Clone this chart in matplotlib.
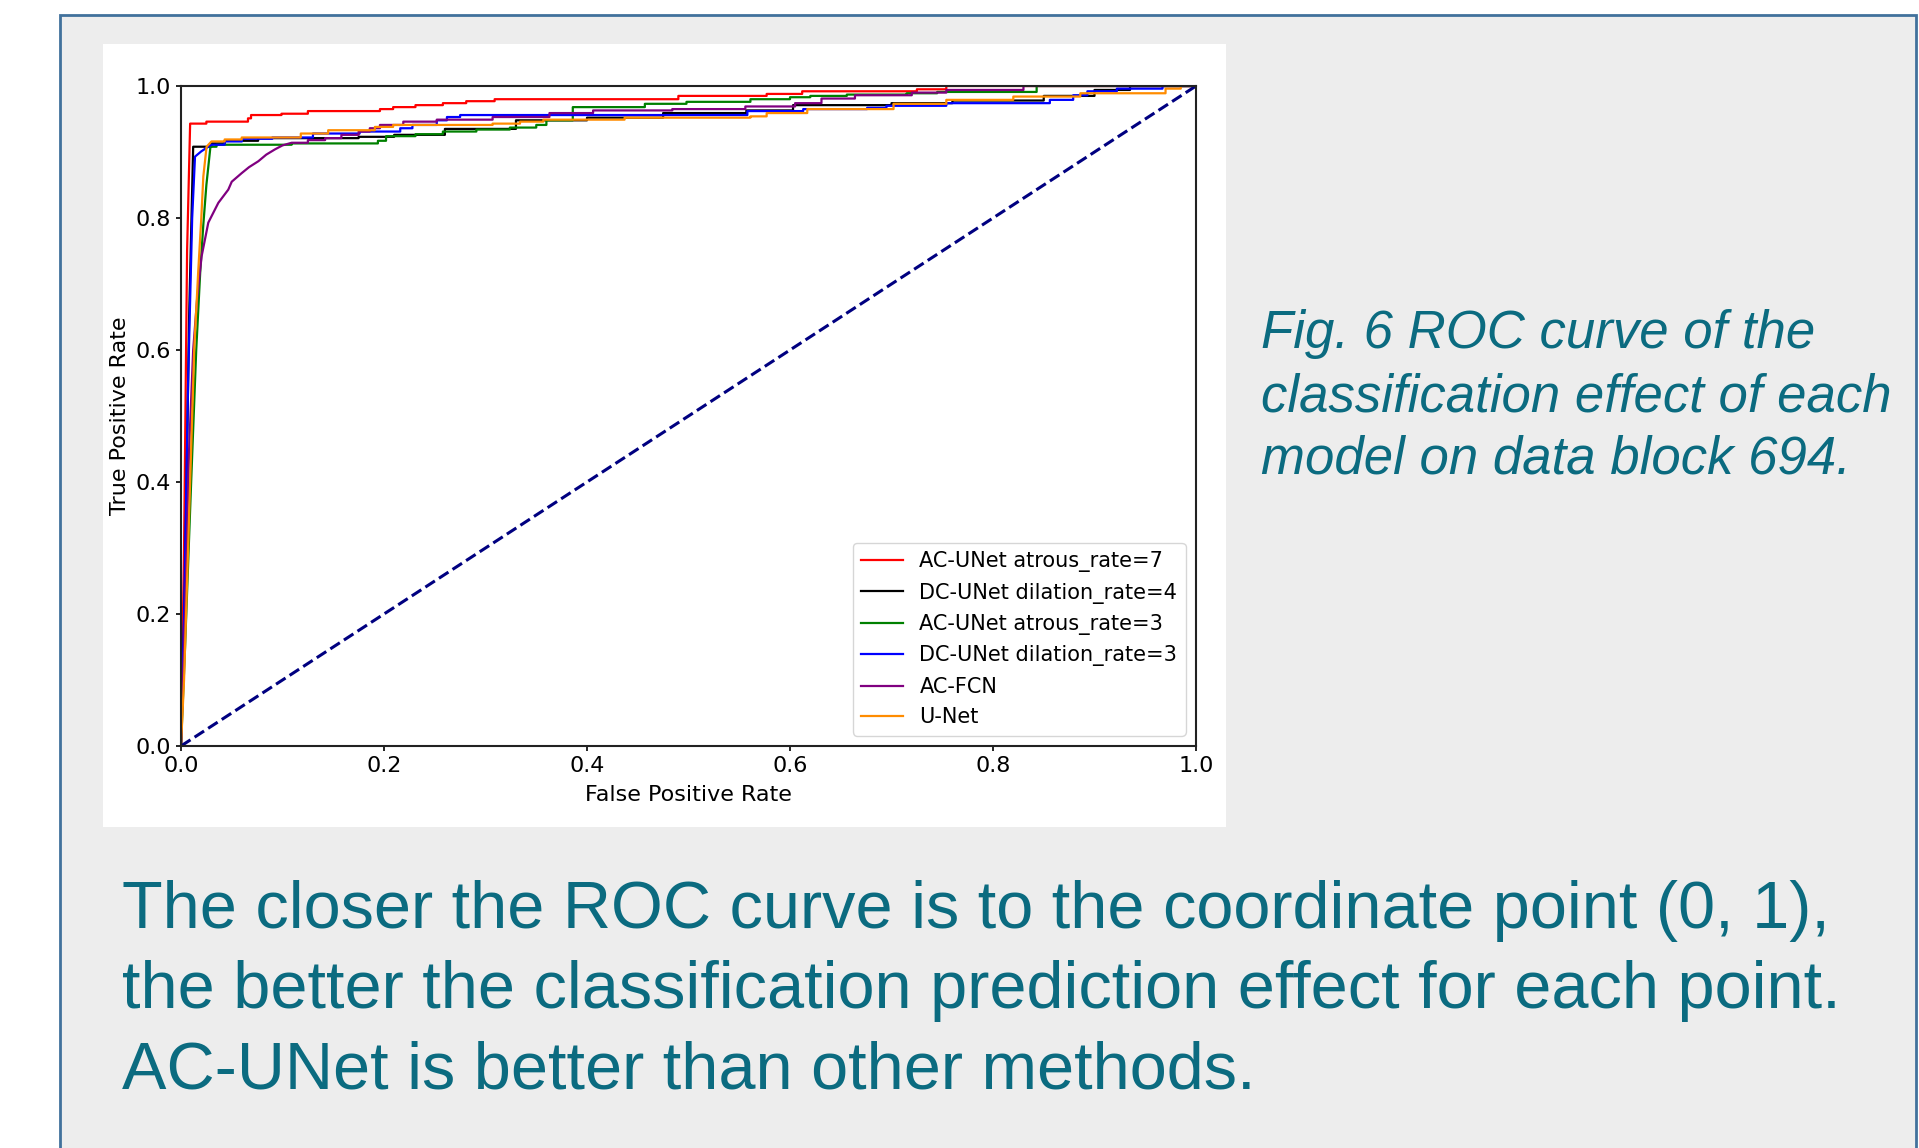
import matplotlib
matplotlib.use("Agg")
from matplotlib import pyplot as plt
from matplotlib.patches import Rectangle

# ROC points (fpr, tpr)
fpr_ac7 = [0, 0.003, 0.006, 0.009, 0.025, 0.066, 0.069, 0.099, 0.125, 0.196, 0.209, 0.231,
           0.258, 0.281, 0.309, 0.490, 0.577, 0.612, 0.725, 0.754, 1.0]
tpr_ac7 = [0, 0.30, 0.75, 0.943, 0.946, 0.951, 0.956, 0.958, 0.962, 0.965, 0.968, 0.971,
           0.974, 0.977, 0.980, 0.985, 0.988, 0.992, 0.995, 1.0, 1.0]

fpr_dc4 = [0, 0.004, 0.008, 0.012, 0.030, 0.043, 0.076, 0.175, 0.21, 0.26, 0.33, 0.40,
           0.475, 0.557, 0.603, 0.70, 0.76, 0.85, 0.90, 0.935, 1.0]
tpr_dc4 = [0, 0.25, 0.65, 0.908, 0.913, 0.917, 0.921, 0.923, 0.926, 0.935, 0.948, 0.952,
           0.959, 0.963, 0.971, 0.974, 0.978, 0.985, 0.994, 1.0, 1.0]

fpr_ac3 = [0, 0.004, 0.010, 0.015, 0.019, 0.022, 0.025, 0.029, 0.035, 0.109, 0.194, 0.202,
           0.231, 0.258, 0.291, 0.324, 0.35, 0.36, 0.386, 0.457, 0.498, 0.561, 0.60, 0.62,
           0.656, 0.715, 0.745, 0.843, 1.0]
tpr_ac3 = [0, 0.15, 0.40, 0.60, 0.72, 0.79, 0.85, 0.908, 0.911, 0.913, 0.917, 0.924,
           0.927, 0.931, 0.934, 0.937, 0.941, 0.948, 0.968, 0.973, 0.976, 0.980, 0.983, 0.985,
           0.987, 0.989, 0.991, 1.0, 1.0]

fpr_dc3 = [0, 0.003, 0.007, 0.011, 0.0138, 0.020, 0.030, 0.043, 0.06, 0.09, 0.13, 0.176,
           0.216, 0.228, 0.252, 0.262, 0.275, 0.558, 0.613, 0.676, 0.695, 0.754, 0.856,
           0.879, 0.893, 0.922, 0.967, 1.0]
tpr_dc3 = [0, 0.2, 0.55, 0.80, 0.893, 0.901, 0.911, 0.916, 0.920, 0.922, 0.928, 0.931,
           0.936, 0.941, 0.948, 0.953, 0.956, 0.962, 0.965, 0.967, 0.970, 0.974, 0.979,
           0.986, 0.992, 0.996, 1.0, 1.0]

fpr_fcn = [0, 0.004, 0.008, 0.012, 0.016, 0.0203, 0.0269, 0.0368, 0.0466, 0.050, 0.0598,
           0.067, 0.0762, 0.084, 0.0926, 0.100, 0.109, 0.125, 0.142, 0.158, 0.175, 0.186,
           0.196, 0.219, 0.252, 0.307, 0.363, 0.406, 0.484, 0.556, 0.605, 0.631, 0.664,
           0.72, 0.754, 0.83, 1.0]
tpr_fcn = [0, 0.2, 0.45, 0.60, 0.68, 0.742, 0.793, 0.823, 0.843, 0.855, 0.868,
           0.877, 0.886, 0.896, 0.904, 0.910, 0.914, 0.918, 0.921, 0.926, 0.931, 0.936,
           0.941, 0.946, 0.949, 0.953, 0.959, 0.963, 0.965, 0.969, 0.974, 0.981, 0.986,
           0.990, 0.994, 1.0, 1.0]

fpr_unet = [0, 0.003, 0.008, 0.013, 0.017, 0.020, 0.022, 0.0252, 0.030, 0.043, 0.0598,
            0.118, 0.145, 0.191, 0.209, 0.307, 0.334, 0.357, 0.437, 0.561, 0.577, 0.617,
            0.702, 0.754, 0.82, 0.886, 0.97, 0.985, 1.0]
tpr_unet = [0, 0.1, 0.35, 0.60, 0.72, 0.80, 0.863, 0.908, 0.916, 0.919, 0.922,
            0.928, 0.933, 0.938, 0.941, 0.943, 0.946, 0.949, 0.952, 0.954, 0.959, 0.965,
            0.973, 0.979, 0.984, 0.989, 0.996, 1.0, 1.0]

labels = ['AC-UNet atrous_rate=7', 'DC-UNet dilation_rate=4', 'AC-UNet atrous_rate=3',
          'DC-UNet dilation_rate=3', 'AC-FCN', 'U-Net']
colors = ['red', 'black', 'green', 'blue', 'purple', 'darkorange']
curves = [(fpr_ac7, tpr_ac7), (fpr_dc4, tpr_dc4), (fpr_ac3, tpr_ac3),
          (fpr_dc3, tpr_dc3), (fpr_fcn, tpr_fcn), (fpr_unet, tpr_unet)]
# how many leading points belong to the steep (sloped) rise of each curve
rise_pts = [4, 4, 8, 7, 17, 9]

caption = 'Fig. 6 ROC curve of the\nclassification effect of each\nmodel on data block 694.'
note = ('The closer the ROC curve is to the coordinate point (0, 1),\n'
        'the better the classification prediction effect for each point.\n'
        'AC-UNet is better than other methods.')
teal = '#0b6b80'


def roc_path(fx, ty, n_rise):
    # sloped rise first, then a staircase through the remaining points
    xs, ys = list(fx[:n_rise]), list(ty[:n_rise])
    for i in range(n_rise, len(fx)):
        xs += [fx[i], fx[i]]
        ys += [ys[-1], ty[i]]
    return xs, ys


fig = plt.figure(figsize=(19.19, 11.48), dpi=100)
fig.patch.set_facecolor('white')

# grey poster panel with blue border, and the white chart panel
fig.patches.append(Rectangle((60 / 1919, -0.05), (1916 - 60) / 1919, 1.05 - 15 / 1148,
                             transform=fig.transFigure, facecolor='#ededed',
                             edgecolor='#41719c', linewidth=2, zorder=0))
fig.patches.append(Rectangle((103 / 1919, 1 - 827 / 1148), 1123 / 1919, 783 / 1148,
                             transform=fig.transFigure, facecolor='white',
                             edgecolor='none', zorder=1))

ax = fig.add_axes([181 / 1919, 1 - 746 / 1148, 1015 / 1919, 660 / 1148])
ax.set_zorder(2)
for (fx, ty), n, lab, col in zip(curves, rise_pts, labels, colors):
    xs, ys = roc_path(fx, ty, n)
    ax.plot(xs, ys, color=col, lw=1.6, label=lab)
ax.plot([0, 1], [0, 1], color='navy', lw=2.2, linestyle='--')

ax.set_xlim(0, 1)
ax.set_ylim(0, 1)
ax.set_xlabel('False Positive Rate', fontsize=16, labelpad=7)
ax.set_ylabel('True Positive Rate', fontsize=16)
ax.tick_params(labelsize=16, length=3.5, width=1.2)
for s in ax.spines.values():
    s.set_linewidth(1.5)
    s.set_color('#222222')
ax.legend(loc='lower right', fontsize=15)

fig.text(1261 / 1919, 1 - 397 / 1148, caption, family='Liberation Sans', style='italic',
         fontsize=38, color=teal, va='center', ha='left', linespacing=1.33)
fig.text(122 / 1919, 1 - 991 / 1148, note, family='Liberation Sans',
         fontsize=48, color=teal, va='center', ha='left', linespacing=1.38)

fig.savefig('out.png', dpi=100)
